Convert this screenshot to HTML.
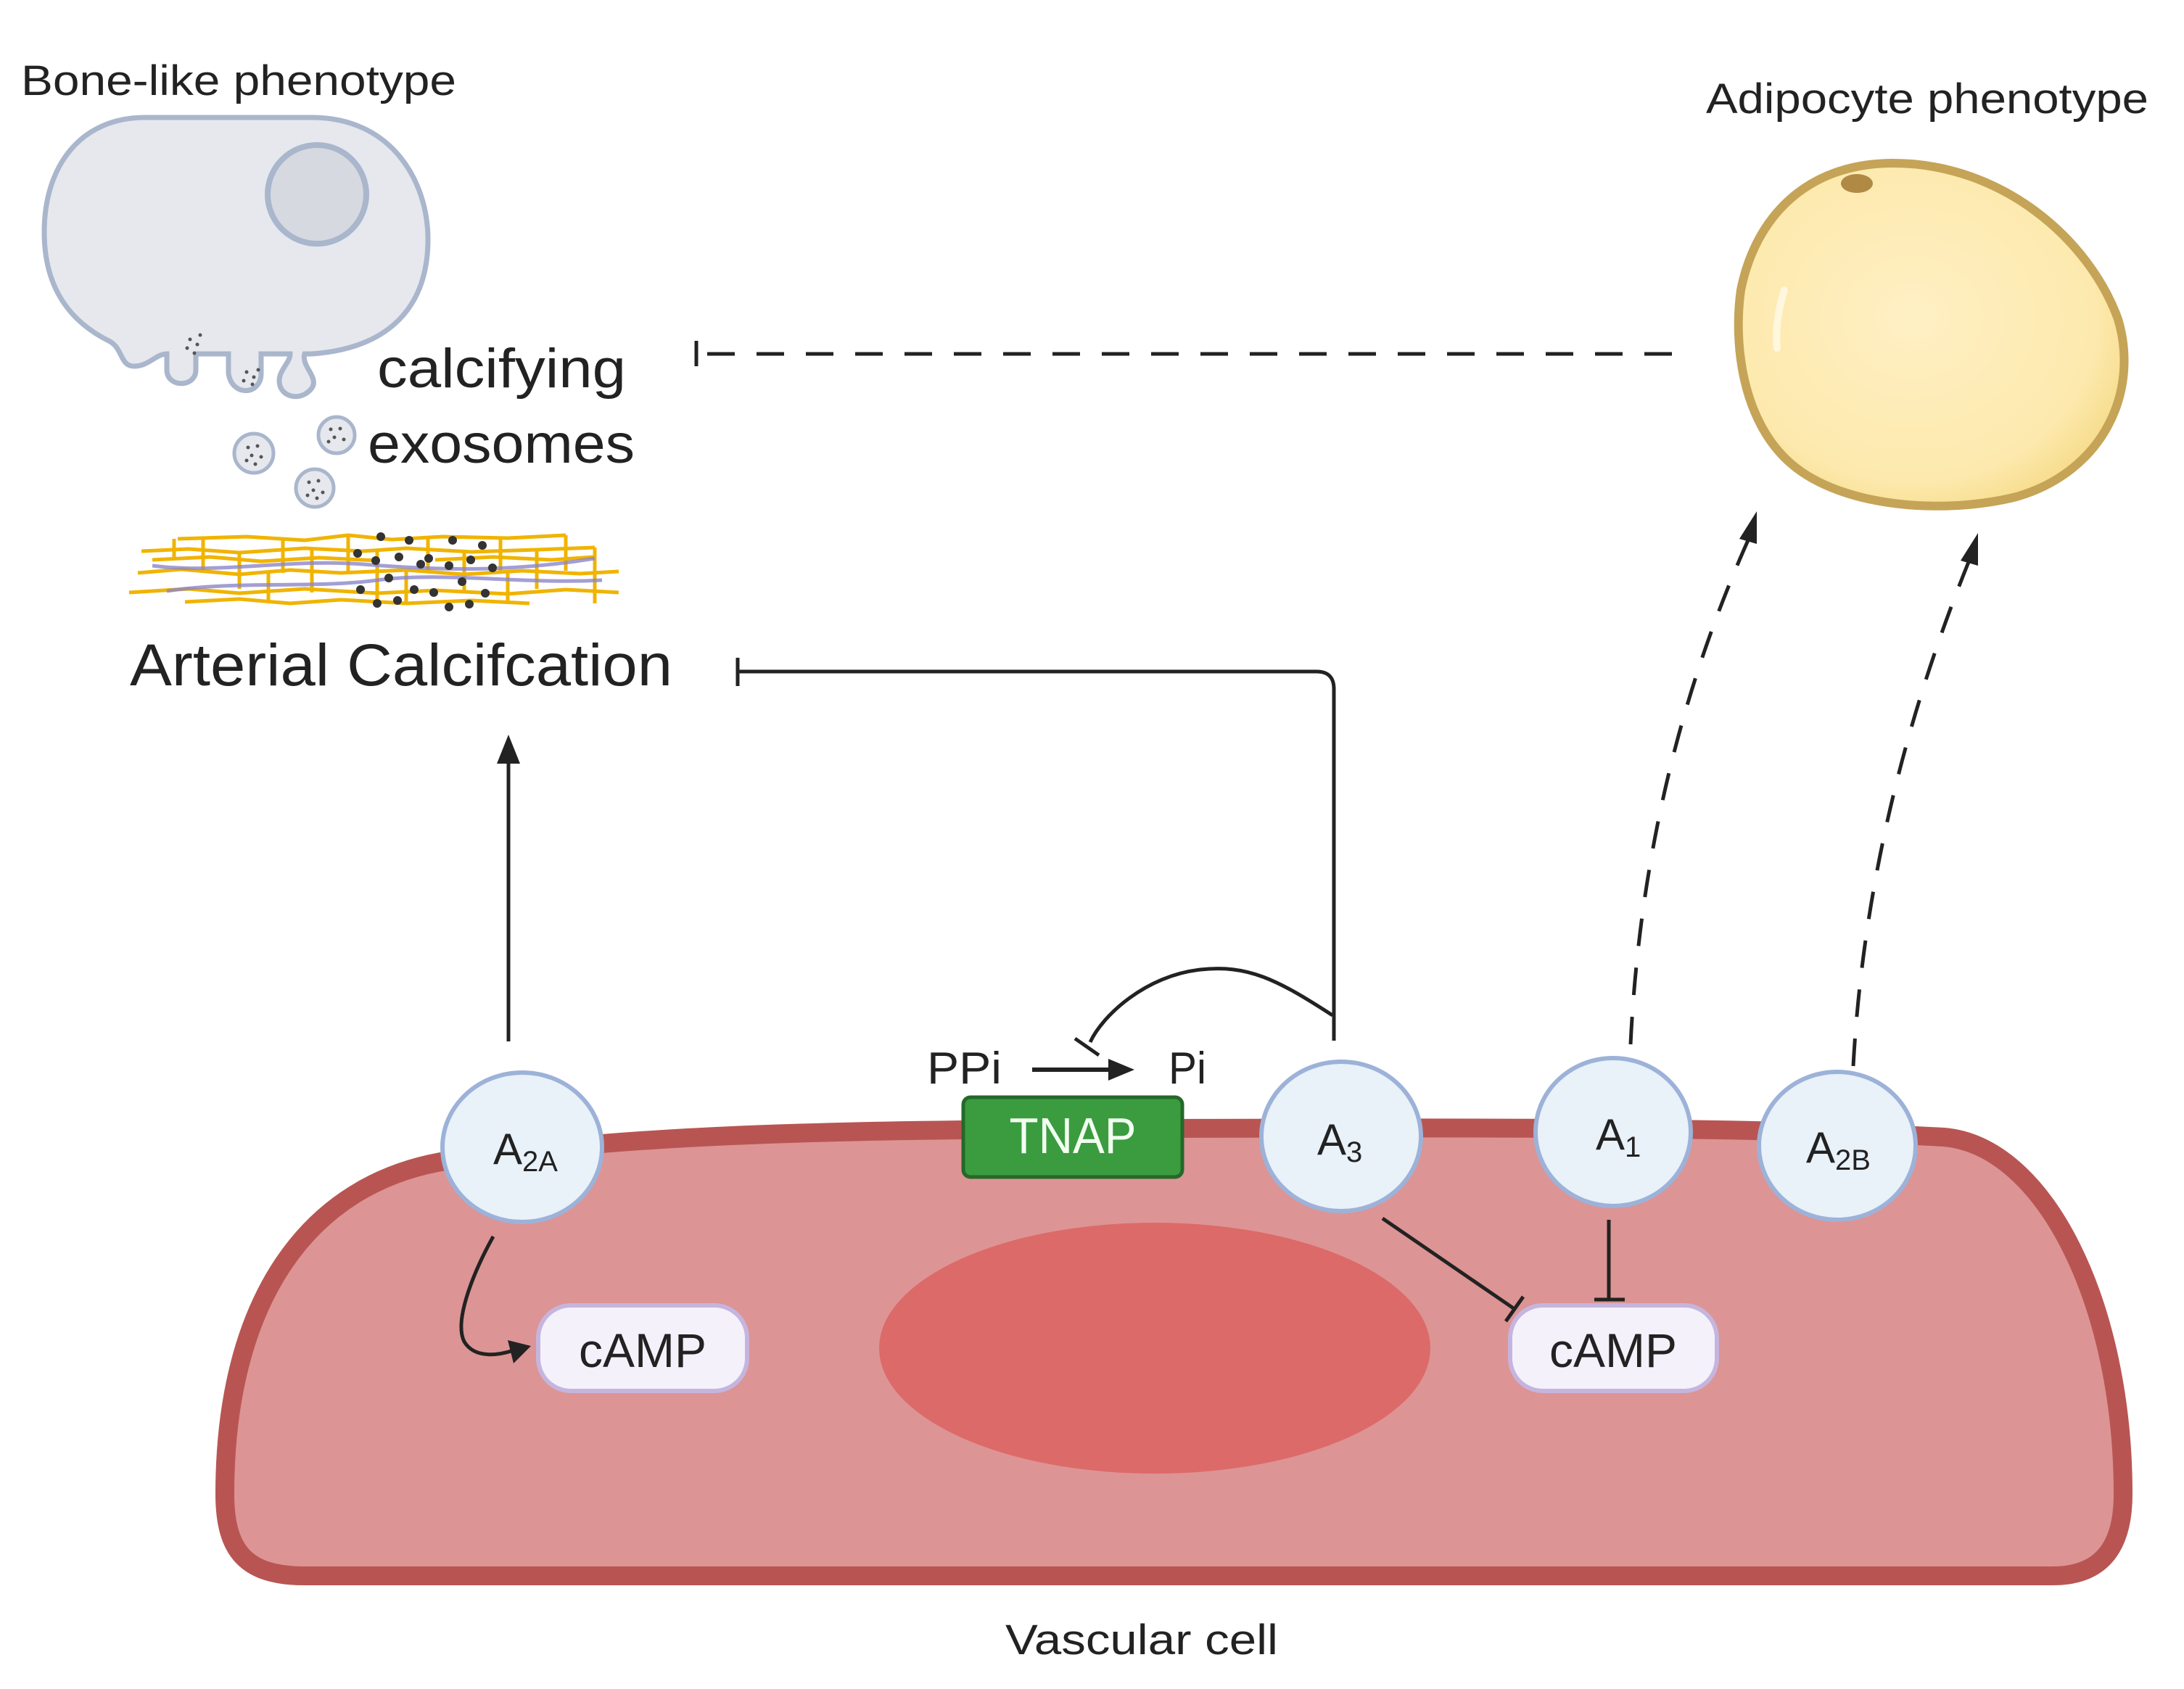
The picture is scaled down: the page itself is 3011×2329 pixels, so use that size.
<!DOCTYPE html>
<html><head><meta charset="utf-8"><style>
html,body{margin:0;padding:0;background:#fff}
svg{display:block}
text{font-family:"Liberation Sans",sans-serif;fill:#222}
</style></head><body>
<svg width="3011" height="2329" viewBox="0 0 3011 2329" xmlns="http://www.w3.org/2000/svg">
<defs>
<radialGradient id="fat" cx="0.45" cy="0.45" r="0.6">
<stop offset="0" stop-color="#fff0c4"/><stop offset="0.8" stop-color="#fde9ad"/><stop offset="1" stop-color="#f6dc8c"/>
</radialGradient>
</defs>

<text x="29" y="131" font-size="58" textLength="600" lengthAdjust="spacingAndGlyphs">Bone-like phenotype</text>
<text x="2352" y="156" font-size="58" textLength="610" lengthAdjust="spacingAndGlyphs">Adipocyte phenotype</text>

<path d="M 200,162 L 430,162 C 540,162 590,250 590,330 C 590,420 540,480 430,488 L 420,488 C 415,505 440,520 430,535 C 415,555 385,548 385,525 C 385,510 400,500 400,488 L 360,488 L 360,515 C 360,545 320,548 315,515 L 315,488 L 270,488 L 270,510 C 270,535 230,535 230,510 L 230,488 C 215,488 205,505 185,505 C 165,505 170,480 150,470 C 90,440 61,390 61,320 C 61,230 110,162 200,162 Z" fill="#e6e8ee" stroke="#a9b6cc" stroke-width="7"/>
<circle cx="437" cy="268" r="68" fill="#d6d9e0" stroke="#a9b6cc" stroke-width="8"/>
<g fill="#555">
<circle cx="262" cy="468" r="2.5"/><circle cx="272" cy="475" r="2.5"/><circle cx="258" cy="480" r="2.5"/><circle cx="268" cy="487" r="2.5"/><circle cx="276" cy="462" r="2.5"/>
<circle cx="340" cy="513" r="2.5"/><circle cx="350" cy="520" r="2.5"/><circle cx="336" cy="525" r="2.5"/><circle cx="348" cy="530" r="2.5"/><circle cx="356" cy="510" r="2.5"/>
</g>
<g stroke="#a9b6cc" stroke-width="5" fill="#e6e8ee">
<circle cx="350" cy="625" r="27"/><circle cx="464" cy="600" r="25"/><circle cx="434" cy="673" r="26"/>
</g>
<g fill="#555">
<circle cx="342" cy="617" r="2.5"/><circle cx="355" cy="615" r="2.5"/><circle cx="347" cy="628" r="2.5"/><circle cx="360" cy="630" r="2.5"/><circle cx="340" cy="635" r="2.5"/><circle cx="352" cy="640" r="2.5"/>
<circle cx="456" cy="592" r="2.5"/><circle cx="469" cy="591" r="2.5"/><circle cx="461" cy="603" r="2.5"/><circle cx="474" cy="606" r="2.5"/><circle cx="453" cy="609" r="2.5"/>
<circle cx="426" cy="665" r="2.5"/><circle cx="439" cy="663" r="2.5"/><circle cx="432" cy="676" r="2.5"/><circle cx="445" cy="679" r="2.5"/><circle cx="424" cy="683" r="2.5"/><circle cx="437" cy="687" r="2.5"/>
</g>
<text x="520" y="534" font-size="76" textLength="343" lengthAdjust="spacingAndGlyphs">calcifying</text>
<text x="507" y="638" font-size="76" textLength="368" lengthAdjust="spacingAndGlyphs">exosomes</text>

<g fill="none" stroke="#f0b400" stroke-width="5" stroke-linejoin="round">
<polyline points="245,743 340,740 420,745 480,738 540,744 610,740 700,742 780,738"/>
<polyline points="195,760 260,757 330,762 420,756 500,760 560,756 650,761 740,758 820,755"/>
<polyline points="190,790 250,785 330,792 400,786 470,790 560,786 640,792 720,787 800,791 853,788"/>
<polyline points="178,817 260,812 330,818 420,812 520,818 600,814 700,819 780,813 853,817"/>
<polyline points="255,830 330,826 400,832 470,827 560,832 650,828 730,832"/>
<polyline points="210,772 290,768 360,774 440,769 520,773"/>
<polyline points="600,772 680,768 760,772 820,768"/>
<path d="M240,743 V772 M280,743 V790 M330,760 V812 M390,743 V790 M430,756 V817 M480,738 V790 M520,760 V830 M590,740 V786 M640,761 V818 M690,742 V790 M740,758 V812 M780,738 V787 M820,755 V832 M370,790 V830 M560,786 V830 M700,790 V830"/>
</g>
<g fill="none" stroke="#8d86c9" stroke-width="5" opacity="0.8">
<path d="M 210,780 C 300,792 400,770 500,778 S 700,790 820,770"/>
<path d="M 230,815 C 330,800 430,812 520,800 S 720,806 830,800"/>
</g>
<g fill="#333">
<circle cx="525" cy="740" r="6"/><circle cx="564" cy="745" r="6"/><circle cx="624" cy="745" r="6"/><circle cx="665" cy="752" r="6"/><circle cx="493" cy="763" r="6"/><circle cx="550" cy="768" r="6"/><circle cx="591" cy="770" r="6"/><circle cx="518" cy="773" r="6"/><circle cx="580" cy="778" r="6"/><circle cx="619" cy="780" r="6"/><circle cx="649" cy="772" r="6"/><circle cx="679" cy="783" r="6"/><circle cx="536" cy="797" r="6"/><circle cx="637" cy="802" r="6"/><circle cx="497" cy="813" r="6"/><circle cx="571" cy="813" r="6"/><circle cx="598" cy="817" r="6"/><circle cx="669" cy="818" r="6"/><circle cx="520" cy="832" r="6"/><circle cx="548" cy="828" r="6"/><circle cx="619" cy="837" r="6"/><circle cx="647" cy="833" r="6"/>
</g>
<text x="179" y="945" font-size="82" textLength="748" lengthAdjust="spacingAndGlyphs">Arterial Calcifcation</text>

<path d="M 2610,225 C 2760,225 2880,330 2920,440 C 2950,540 2900,650 2780,685 C 2680,710 2540,700 2470,640 C 2400,580 2390,470 2400,400 C 2420,300 2490,225 2610,225 Z" fill="url(#fat)" stroke="#c5a458" stroke-width="12"/>
<ellipse cx="2560" cy="253" rx="22" ry="13" fill="#b08a45"/>
<path d="M 2460,400 C 2450,430 2448,460 2450,480" stroke="#fff7de" stroke-width="10" fill="none" stroke-linecap="round"/>

<line x1="960" y1="470" x2="960" y2="505" stroke="#222" stroke-width="5"/>
<line x1="975" y1="488" x2="2326" y2="488" stroke="#222" stroke-width="5" stroke-dasharray="38,30"/>

<path d="M 2248,1440 Q 2266,1068 2410,745" fill="none" stroke="#222" stroke-width="5" stroke-dasharray="38,30"/>
<polygon points="2422,705 2398,743 2422,750" fill="#222"/>
<path d="M 2555,1470 Q 2574,1122 2714,775" fill="none" stroke="#222" stroke-width="5" stroke-dasharray="38,30"/>
<polygon points="2727,735 2703,773 2727,780" fill="#222"/>

<path d="M 620,1600 C 900,1560 1200,1558 1600,1556 C 2000,1555 2400,1553 2680,1568 C 2820,1580 2927,1800 2927,2060 C 2927,2130 2900,2173 2830,2173 L 420,2173 C 340,2173 310,2140 310,2060 C 310,1800 420,1630 620,1600 Z" fill="#dd9494" stroke="#b85553" stroke-width="26"/>
<ellipse cx="1592" cy="1859" rx="380" ry="173" fill="#dc6a69"/>

<line x1="701" y1="1436" x2="701" y2="1050" stroke="#222" stroke-width="5"/>
<polygon points="701,1013 685,1053 717,1053" fill="#222"/>

<path d="M 1839,1435 L 1839,950 Q 1839,926 1815,926 L 1017,926" fill="none" stroke="#222" stroke-width="5"/>
<line x1="1017" y1="907" x2="1017" y2="946" stroke="#222" stroke-width="5"/>
<path d="M 1837,1400 C 1760,1350 1720,1330 1655,1337 C 1580,1345 1520,1400 1503,1437" fill="none" stroke="#222" stroke-width="5"/>
<line x1="1482" y1="1432" x2="1515" y2="1455" stroke="#222" stroke-width="5"/>

<text x="1278" y="1494" font-size="62" textLength="103" lengthAdjust="spacingAndGlyphs">PPi</text>
<text x="1611" y="1494" font-size="62" textLength="52" lengthAdjust="spacingAndGlyphs">Pi</text>
<line x1="1423" y1="1475" x2="1535" y2="1475" stroke="#222" stroke-width="6"/>
<polygon points="1564,1475 1528,1460 1528,1490" fill="#222"/>

<rect x="1328" y="1513" width="302" height="110" rx="10" fill="#3b9b3f" stroke="#25682a" stroke-width="5"/>
<text x="1479" y="1590" font-size="70" text-anchor="middle" style="fill:#f2fff0" textLength="175" lengthAdjust="spacingAndGlyphs">TNAP</text>

<g fill="#e9f1f9" stroke="#9db2d8" stroke-width="6">
<ellipse cx="720" cy="1582" rx="110" ry="103"/>
<ellipse cx="1849" cy="1567" rx="110" ry="103"/>
<ellipse cx="2224" cy="1561" rx="107" ry="102"/>
<ellipse cx="2533" cy="1580" rx="108" ry="102"/>
</g>
<text x="680" y="1605" font-size="60">A<tspan font-size="40" dy="10">2A</tspan></text>
<text x="1816" y="1592" font-size="60">A<tspan font-size="40" dy="10">3</tspan></text>
<text x="2200" y="1585" font-size="60">A<tspan font-size="40" dy="10">1</tspan></text>
<text x="2490" y="1603" font-size="60">A<tspan font-size="40" dy="10">2B</tspan></text>

<g fill="#f5f1fb" stroke="#c5b5de" stroke-width="6">
<rect x="742" y="1800" width="288" height="118" rx="45"/>
<rect x="2082" y="1800" width="285" height="118" rx="45"/>
</g>
<text x="886" y="1885" font-size="66" text-anchor="middle">cAMP</text>
<text x="2224" y="1885" font-size="66" text-anchor="middle">cAMP</text>

<path d="M 680,1705 C 655,1750 625,1820 640,1850 C 655,1875 690,1868 708,1862" fill="none" stroke="#222" stroke-width="5"/>
<polygon points="732,1856 700,1848 708,1880" fill="#222"/>
<line x1="1906" y1="1680" x2="2088" y2="1805" stroke="#222" stroke-width="5"/>
<line x1="2076" y1="1822" x2="2100" y2="1788" stroke="#222" stroke-width="5"/>
<line x1="2218" y1="1682" x2="2218" y2="1792" stroke="#222" stroke-width="5"/>
<line x1="2198" y1="1792" x2="2240" y2="1792" stroke="#222" stroke-width="5"/>

<text x="1386" y="2281" font-size="58" textLength="376" lengthAdjust="spacingAndGlyphs">Vascular cell</text>
</svg>
</body></html>
